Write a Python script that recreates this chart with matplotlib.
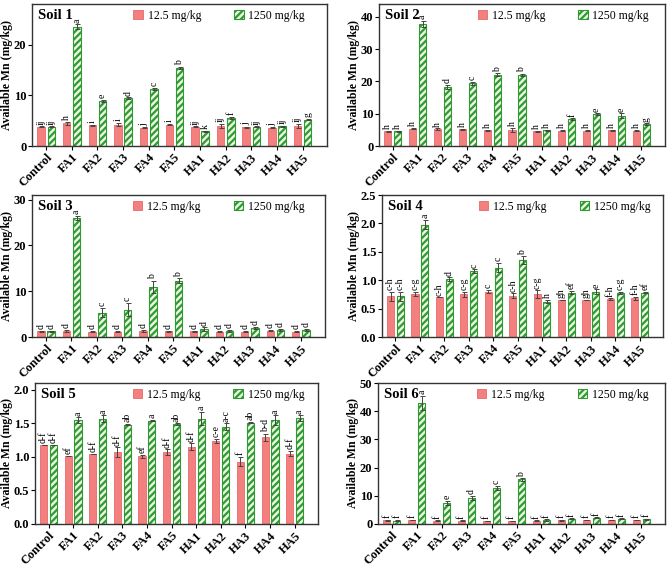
import numpy as np
import matplotlib
matplotlib.use("Agg")
import matplotlib.pyplot as plt

plt.rcParams['font.family'] = ['Liberation Serif', 'DejaVu Serif']
plt.rcParams['hatch.linewidth'] = 1.6

# Datos
treatments = ['Control', 'FA1', 'FA2', 'FA3', 'FA4', 'FA5', 'HA1', 'HA2', 'HA3', 'HA4', 'HA5']
soils = ['Soil 1', 'Soil 2', 'Soil 3', 'Soil 4', 'Soil 5', 'Soil 6']

low_mean = [
    [3.8, 4.5, 4.1, 4.2, 3.6, 4.2, 3.8, 3.9, 3.7, 3.6, 3.9],
    [4.6, 5.4, 5.3, 5.2, 4.9, 4.9, 4.6, 4.8, 4.8, 4.9, 4.7],
    [1.3, 1.4, 1.2, 1.2, 1.4, 1.3, 1.3, 1.2, 1.2, 1.4, 1.2],
    [0.72, 0.76, 0.70, 0.75, 0.80, 0.73, 0.75, 0.66, 0.66, 0.67, 0.68],
    [1.18, 1.02, 1.04, 1.07, 1.01, 1.07, 1.15, 1.24, 0.93, 1.29, 1.05],
    [1.3, 1.4, 1.2, 1.2, 1.1, 1.1, 1.2, 1.3, 1.4, 1.4, 1.4],
]
low_err = [
    [0.1, 0.3, 0.1, 0.3, 0.1, 0.1, 0.1, 0.4, 0.1, 0.1, 0.4],
    [0.2, 0.2, 0.2, 0.2, 0.2, 0.7, 0.2, 0.2, 0.2, 0.2, 0.2],
    [0.1, 0.2, 0.1, 0.1, 0.2, 0.1, 0.1, 0.1, 0.1, 0.1, 0.1],
    [0.08, 0.03, 0.0, 0.04, 0.03, 0.04, 0.07, 0.0, 0.0, 0.01, 0.03],
    [0.0, 0.0, 0.0, 0.07, 0.02, 0.04, 0.05, 0.03, 0.07, 0.05, 0.04],
    [0.1, 0.1, 0.1, 0.1, 0.1, 0.1, 0.1, 0.1, 0.1, 0.1, 0.1],
]
high_mean = [
    [3.8, 23.5, 8.9, 9.4, 11.2, 15.4, 2.9, 5.6, 3.8, 3.9, 5.2],
    [4.5, 37.8, 18.3, 19.4, 22.1, 22.0, 4.9, 8.4, 9.9, 9.4, 6.8],
    [1.3, 26.0, 5.3, 6.0, 11.0, 12.3, 1.7, 1.3, 2.0, 1.6, 1.6],
    [0.72, 1.98, 1.02, 1.16, 1.22, 1.35, 0.62, 0.78, 0.80, 0.77, 0.78],
    [1.18, 1.55, 1.57, 1.48, 1.54, 1.49, 1.57, 1.45, 1.51, 1.55, 1.58],
    [1.2, 43.0, 7.5, 9.2, 12.8, 15.8, 1.4, 1.8, 2.2, 1.8, 1.7],
]
high_err = [
    [0.1, 0.5, 0.2, 0.2, 0.2, 0.2, 0.1, 0.2, 0.1, 0.1, 0.1],
    [0.2, 1.0, 0.7, 0.5, 0.4, 0.4, 0.2, 0.2, 0.2, 0.7, 0.2],
    [0.1, 0.5, 1.0, 1.5, 1.3, 0.5, 0.4, 0.3, 0.2, 0.2, 0.2],
    [0.08, 0.08, 0.03, 0.03, 0.08, 0.07, 0.03, 0.03, 0.04, 0.02, 0.01],
    [0.0, 0.04, 0.05, 0.01, 0.01, 0.01, 0.10, 0.05, 0.01, 0.07, 0.04],
    [0.2, 2.5, 0.8, 0.8, 0.8, 0.4, 0.2, 0.2, 0.2, 0.2, 0.2],
]
low_letters = [
    ['ij', 'h', 'i', 'i', 'j', 'i', 'ij', 'ij', 'j', 'j', 'ij'],
    ['h'] * 11,
    ['d'] * 11,
    ['c-h', 'c-g', 'c-h', 'c-g', 'c', 'c-h', 'c-g', 'gh', 'gh', 'f-h', 'f-h'],
    ['d-f', 'ef', 'd-f', 'd-f', 'ef', 'd-f', 'd-f', 'c-e', 'f', 'b-d', 'd-f'],
    ['f'] * 11,
]
high_letters = [
    ['ij', 'a', 'e', 'd', 'c', 'b', 'k', 'f', 'ij', 'ij', 'g'],
    ['h', 'a', 'd', 'c', 'b', 'b', 'h', 'f', 'e', 'e', 'g'],
    ['d', 'a', 'c', 'c', 'b', 'b', 'd', 'd', 'd', 'd', 'd'],
    ['c-h', 'a', 'd', 'c', 'c', 'b', 'h', 'ef', 'e', 'c-g', 'ef'],
    ['d-f', 'a', 'a', 'ab', 'a', 'ab', 'a', 'a-c', 'ab', 'a', 'a'],
    ['f', 'a', 'e', 'd', 'c', 'b', 'f', 'f', 'f', 'f', 'f'],
]
y_max = [28, 44, 31, 2.5, 2.1, 50]
y_ticks = [
    [0, 10, 20],
    [0, 10, 20, 30, 40],
    [0, 10, 20, 30],
    [0.0, 0.5, 1.0, 1.5, 2.0, 2.5],
    [0.0, 0.5, 1.0, 1.5, 2.0],
    [0, 10, 20, 30, 40, 50],
]
decimals = [False, False, False, True, True, False]

red_face = '#f47f7f'
red_edge = '#e86a6a'
green_face = '#eaf7e4'
green_edge = '#2f9a2f'

W, H = 669, 566
fig = plt.figure(figsize=(W / 100, H / 100), dpi=100)

# cajas de los paneles en pixeles: izquierda, derecha, arriba, abajo
boxes = [
    (32, 327, 4, 146),
    (379, 665, 4, 146),
    (32, 325, 195, 337),
    (382, 663, 195, 337),
    (35, 318, 383, 524),
    (378, 665, 383, 524),
]

x = np.arange(len(treatments))
bw = 0.29
off = 0.2
ekw = dict(ecolor='#444444', elinewidth=0.7, capsize=1.8, capthick=0.7)

for i in range(6):
    l, r, t, b = boxes[i]
    ax = fig.add_axes([l / W, 1 - b / H, (r - l) / W, (b - t) / H])
    lm, le = np.array(low_mean[i]), np.array(low_err[i])
    hm, he = np.array(high_mean[i]), np.array(high_err[i])

    ax.bar(x - off, lm, bw, color=red_face, edgecolor=red_edge, linewidth=0.6,
           yerr=le, error_kw=ekw, label='12.5 mg/kg')
    ax.bar(x + off, hm, bw, color=green_face, edgecolor=green_edge, linewidth=0.8,
           hatch='/////', yerr=he, error_kw=ekw, label='1250 mg/kg')

    pad = y_max[i] * 0.012
    for j in range(len(treatments)):
        ax.text(x[j] - off, lm[j] + le[j] + pad, low_letters[i][j], rotation=90,
                ha='center', va='bottom', fontsize=7)
        ax.text(x[j] + off, hm[j] + he[j] + pad, high_letters[i][j], rotation=90,
                ha='center', va='bottom', fontsize=7)

    ax.set_xlim(-0.55, 10.95)
    ax.set_ylim(0, y_max[i])
    ax.set_yticks(y_ticks[i])
    if decimals[i]:
        ax.set_yticklabels([f'{v:.1f}' for v in y_ticks[i]])
    else:
        ax.set_yticklabels([f'{v:d}' for v in y_ticks[i]])
    ax.set_xticks(x)
    ax.set_xticklabels(treatments, rotation=45, ha='right', rotation_mode='anchor')
    for lab in ax.get_xticklabels() + ax.get_yticklabels():
        lab.set_fontweight('bold')
        lab.set_fontsize(9)
    ax.tick_params(axis='both', direction='out', length=3, width=0.8, pad=1)
    for s in ax.spines.values():
        s.set_linewidth(1.0)
        s.set_color('#333333')

    ax.set_ylabel('Available Mn (mg/kg)', fontsize=8.5, fontweight='bold', labelpad=0.5)
    ax.text(0.02, 0.965, soils[i], transform=ax.transAxes, fontsize=10.5,
            fontweight='bold', va='top', ha='left')
    ax.legend(loc='upper left', bbox_to_anchor=(0.32, 1.01), ncol=2, frameon=False,
              fontsize=8.5, handlelength=0.8, handleheight=0.8, columnspacing=2.8,
              handletextpad=0.4, borderaxespad=0.2)

plt.savefig('out.png', dpi=100)
